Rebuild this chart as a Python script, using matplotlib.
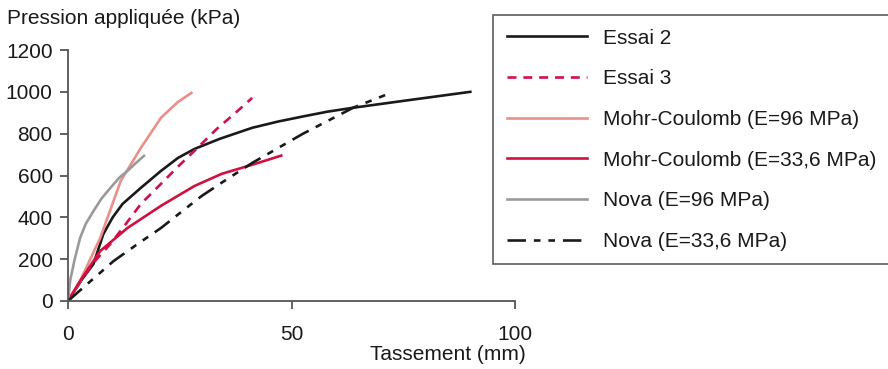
import matplotlib
matplotlib.use("Agg")
import matplotlib.pyplot as plt

plt.rcParams['font.family'] = ['Liberation Sans', 'DejaVu Sans']

essai2_x = [0, 3, 5.7, 7.9, 10, 12.2, 16.3, 20.8, 24.6, 28.3, 33.9, 41.2, 47, 52.5, 58, 63.8, 75.1, 90]
essai2_y = [0, 100, 177, 320, 400, 464, 541, 622, 684, 727, 775, 828, 858, 882, 905, 924, 957, 1000]

essai3_x = [0, 3, 6, 9.5, 13, 16.3, 20.8, 24.5, 28.3, 33.3, 37.5, 41.2]
essai3_y = [0, 100, 190, 273, 370, 464, 560, 640, 718, 823, 900, 971]

mc96_x = [0, 2.7, 7.2, 11.8, 16.3, 20.8, 24.5, 27.6]
mc96_y = [0, 96, 301, 574, 732, 876, 950, 995]

mc336_x = [0, 2.7, 7.2, 13.3, 20.8, 28.3, 34.4, 41, 47.7]
mc336_y = [0, 96, 239, 349, 455, 550, 608, 650, 695]

nova96_x = [0, 0.5, 1.5, 2.7, 4, 5.7, 7.5, 9.5, 11.5, 13.3, 15.2, 17]
nova96_y = [0, 100, 200, 301, 370, 430, 490, 541, 590, 622, 660, 694]

nova336_x = [0, 4.3, 10.2, 15.6, 20.8, 25, 29.9, 34.4, 41.2, 52.5, 63.8, 72.2]
nova336_y = [0, 81, 191, 273, 349, 420, 502, 566, 660, 799, 924, 995]

labels = ["Essai 2", "Essai 3", "Mohr-Coulomb (E=96 MPa)",
          "Mohr-Coulomb (E=33,6 MPa)", "Nova (E=96 MPa)", "Nova (E=33,6 MPa)"]

W, H = 888, 369
fig = plt.figure(figsize=(W/100, H/100), dpi=100)
ax = fig.add_axes([68/W, 1-301/H, (515-68)/W, (301-50)/H])

lw = 1.9
h1, = ax.plot(essai2_x, essai2_y, color='#1a1a1a', lw=lw)
h2, = ax.plot(essai3_x, essai3_y, color='#d0104c', lw=lw, dashes=(3.4, 2.6))
h3, = ax.plot(mc96_x, mc96_y, color='#ea9088', lw=lw)
h4, = ax.plot(mc336_x, mc336_y, color='#d0103e', lw=lw)
h5, = ax.plot(nova96_x, nova96_y, color='#9a9a9a', lw=lw)
h6, = ax.plot(nova336_x, nova336_y, color='#1a1a1a', lw=lw, dashes=(7, 3, 2.5, 3, 2.5, 3))

fs = 15
ax.set_xlim(0, 100)
ax.set_ylim(0, 1200)
ax.set_xticks([0, 50, 100])
ax.set_yticks(range(0, 1201, 200))
for s in ['top', 'right']:
    ax.spines[s].set_visible(False)
for s in ['left', 'bottom']:
    ax.spines[s].set_color('#555555')
    ax.spines[s].set_linewidth(1.3)
ax.tick_params(axis='both', colors='#555555', labelcolor='#1a1a1a', labelsize=fs, length=5.5, width=1.3)
ax.tick_params(axis='y', pad=5.5)
ax.tick_params(axis='x', pad=12)

fig.text(7/W, 1-18/H, "Pression appliquée (kPa)", fontsize=fs, color='#1a1a1a', va='center', ha='left')
fig.text(526/W, 1-354/H, "Tassement (mm)", fontsize=fs, color='#1a1a1a', va='center', ha='right')

leg = fig.legend([h1, h2, h3, h4, h5, h6], labels,
                 loc='upper left', bbox_to_anchor=(493/W, 1-262/H, 420/W, 247/H),
                 mode='expand',
                 fontsize=fs, frameon=True, fancybox=False,
                 handlelength=3.85, handletextpad=0.8, labelspacing=1.04,
                 borderpad=0.65, borderaxespad=0)
leg.get_frame().set_edgecolor('#333333')
leg.get_frame().set_linewidth(1.2)
for t in leg.get_texts():
    t.set_color('#1a1a1a')

fig.savefig("out.png", dpi=100)
